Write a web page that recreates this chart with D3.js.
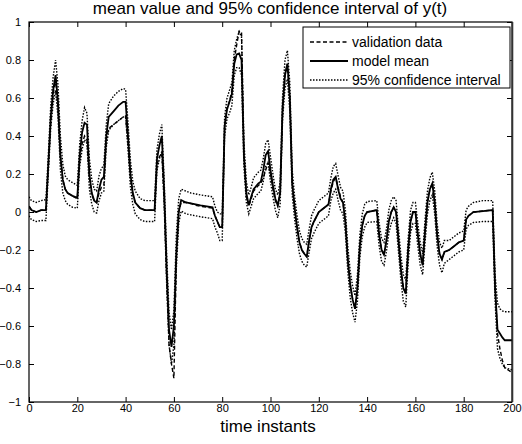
<!DOCTYPE html>
<html><head><meta charset="utf-8">
<script src="https://cdn.jsdelivr.net/npm/d3@7"></script>
<style>body{margin:0;background:#fff}svg{display:block}text{font-family:Arial,"Liberation Sans",sans-serif;fill:#000}</style>
</head><body>
<svg id="c" width="522" height="444"></svg>
<script>
// time instants at which the curves are sampled
const times = [0,1,3,5,7,8,9,10,11,12,13,14,15,16,18,20,21,22,23,24,25,26,27,28,29,30,31,32,33,35,37,39,40,41,42,43,44,46,48,52,53,54,55,56,57,58,59,60,61,62,63,65,67,69,71,76,77,78,79,80,81,82,83,84,85,86,87,88,89,90,91,92,93,95,96,97,98,99,100,101,102,103,104,105,106,107,108,109,110,111,112,113,114,115,116,117,118,120,122,124,125,126,127,128,129,130,131,132,133,134,135,136,137,138,139,140,144,145,146,147,148,149,150,151,152,153,154,155,156,157,158,159,160,161,162,163,164,165,166,167,168,169,170,171,172,174,176,178,180,181,182,184,188,192,193,194,195,196,197,200];
const validation = [0.03,0.01,0.00,0.01,0.01,0.24,0.47,0.62,0.70,0.55,0.29,0.17,0.12,0.10,0.085,0.07,0.28,0.36,0.40,0.38,0.18,0.09,0.06,0.05,0.10,0.13,0.14,0.38,0.44,0.46,0.48,0.50,0.505,0.36,0.18,0.09,0.05,0.02,0.01,0.01,0.25,0.29,0.31,0.05,-0.35,-0.70,-0.80,-0.875,-0.25,0.0,0.05,0.05,0.045,0.035,0.03,0.02,-0.02,-0.05,-0.08,-0.08,0.45,0.55,0.58,0.64,0.80,0.88,0.95,0.95,0.30,0.08,0.03,0.07,0.11,0.14,0.15,0.18,0.22,0.26,0.20,0.12,0.06,0.03,0.10,0.52,0.72,0.78,0.60,0.15,0.02,-0.08,-0.16,-0.20,-0.22,-0.235,-0.15,-0.08,-0.05,0.00,0.02,0.04,0.11,0.16,0.18,0.13,0.08,0.05,-0.05,-0.25,-0.38,-0.46,-0.51,-0.40,-0.18,-0.07,-0.02,0.00,0.01,-0.12,-0.20,-0.225,-0.15,-0.05,0.00,0.025,0.00,-0.15,-0.30,-0.40,-0.43,-0.20,-0.05,0.00,0.00,-0.12,-0.22,-0.28,-0.10,0.05,0.12,0.15,0.05,-0.12,-0.22,-0.25,-0.21,-0.20,-0.18,-0.16,-0.15,-0.04,-0.02,0.00,0.005,0.01,-0.40,-0.64,-0.72,-0.78,-0.82,-0.845];
const modelMean = [0.03,0.01,0.00,0.01,0.01,0.25,0.50,0.64,0.72,0.58,0.30,0.17,0.12,0.10,0.085,0.075,0.30,0.42,0.47,0.46,0.20,0.10,0.06,0.05,0.12,0.17,0.185,0.40,0.50,0.53,0.56,0.58,0.58,0.40,0.20,0.10,0.05,0.02,0.01,0.01,0.28,0.35,0.40,0.10,-0.30,-0.62,-0.71,-0.60,-0.22,0.0,0.063,0.05,0.045,0.04,0.035,0.025,-0.02,-0.05,-0.08,-0.08,0.45,0.54,0.58,0.62,0.78,0.83,0.835,0.80,0.30,0.10,0.035,0.08,0.12,0.15,0.16,0.22,0.30,0.32,0.22,0.14,0.07,0.035,0.10,0.55,0.72,0.78,0.60,0.15,0.02,-0.08,-0.16,-0.20,-0.22,-0.235,-0.15,-0.08,-0.05,0.00,0.02,0.04,0.12,0.17,0.185,0.12,0.07,0.05,-0.05,-0.25,-0.38,-0.46,-0.51,-0.40,-0.18,-0.07,-0.02,0.00,0.01,-0.12,-0.20,-0.225,-0.15,-0.05,0.00,0.025,0.00,-0.15,-0.30,-0.40,-0.43,-0.20,-0.05,0.00,0.00,-0.12,-0.22,-0.28,-0.10,0.05,0.12,0.15,0.05,-0.12,-0.22,-0.25,-0.21,-0.20,-0.18,-0.16,-0.15,-0.04,-0.02,0.00,0.005,0.01,-0.40,-0.62,-0.64,-0.66,-0.675,-0.675];
const upperCI = [0.08,0.06,0.05,0.06,0.065,0.30,0.56,0.71,0.80,0.67,0.40,0.25,0.19,0.17,0.155,0.14,0.36,0.48,0.55,0.52,0.28,0.17,0.12,0.11,0.19,0.23,0.245,0.46,0.57,0.61,0.635,0.65,0.645,0.47,0.27,0.16,0.11,0.07,0.06,0.06,0.33,0.41,0.46,0.16,-0.22,-0.53,-0.62,-0.52,-0.12,0.07,0.12,0.11,0.10,0.095,0.09,0.08,0.03,0.00,-0.01,-0.01,0.50,0.60,0.64,0.68,0.85,0.91,0.95,0.92,0.37,0.16,0.09,0.13,0.18,0.21,0.22,0.28,0.36,0.38,0.29,0.20,0.12,0.09,0.16,0.61,0.80,0.85,0.68,0.22,0.08,-0.02,-0.10,-0.14,-0.16,-0.17,-0.09,-0.02,0.01,0.06,0.08,0.10,0.18,0.24,0.255,0.19,0.13,0.11,0.01,-0.18,-0.31,-0.39,-0.44,-0.33,-0.12,-0.01,0.04,0.055,0.06,-0.06,-0.14,-0.16,-0.09,0.01,0.06,0.08,0.06,-0.09,-0.23,-0.33,-0.36,-0.14,0.01,0.05,0.05,-0.06,-0.16,-0.22,-0.04,0.11,0.18,0.21,0.11,-0.06,-0.16,-0.19,-0.15,-0.15,-0.13,-0.11,-0.10,0.01,0.03,0.05,0.06,0.06,-0.33,-0.48,-0.51,-0.52,-0.525,-0.525];
const lowerCI = [-0.02,-0.04,-0.05,-0.045,-0.045,0.20,0.44,0.57,0.64,0.50,0.22,0.10,0.06,0.04,0.025,0.02,0.24,0.33,0.38,0.36,0.12,0.04,0.00,-0.005,0.06,0.10,0.11,0.34,0.43,0.46,0.48,0.50,0.50,0.33,0.13,0.04,-0.01,-0.04,-0.05,-0.05,0.22,0.28,0.32,0.03,-0.38,-0.70,-0.80,-0.70,-0.30,-0.06,0.005,-0.01,-0.015,-0.02,-0.025,-0.035,-0.08,-0.11,-0.15,-0.15,0.40,0.49,0.52,0.56,0.72,0.76,0.76,0.72,0.24,0.05,-0.01,0.03,0.07,0.10,0.11,0.16,0.24,0.26,0.16,0.08,0.01,-0.03,0.04,0.49,0.65,0.70,0.53,0.09,-0.04,-0.14,-0.22,-0.26,-0.28,-0.29,-0.21,-0.14,-0.11,-0.06,-0.04,-0.02,0.06,0.10,0.12,0.06,0.01,-0.01,-0.11,-0.31,-0.45,-0.53,-0.58,-0.47,-0.24,-0.13,-0.08,-0.055,-0.05,-0.18,-0.26,-0.28,-0.21,-0.11,-0.06,-0.03,-0.06,-0.21,-0.36,-0.47,-0.50,-0.27,-0.11,-0.06,-0.06,-0.18,-0.28,-0.33,-0.16,-0.01,0.06,0.09,-0.01,-0.18,-0.28,-0.32,-0.27,-0.25,-0.23,-0.21,-0.20,-0.09,-0.07,-0.055,-0.05,-0.05,-0.47,-0.72,-0.77,-0.80,-0.82,-0.83];
const xTicks = [0,20,40,60,80,100,120,140,160,180,200];
const yTicks = [-1,-0.8,-0.6,-0.4,-0.2,0,0.2,0.4,0.6,0.8,1];
const legendLabels = ["validation data","model mean","95% confidence interval"];
const titleText = "mean value and 95% confidence interval of y(t)";
const xLabelText = "time instants";

const svg = d3.select("#c");
const m = {l:29, r:512, t:22, b:402};
const x = d3.scaleLinear().domain([0,200]).range([m.l, m.r]);
const y = d3.scaleLinear().domain([-1,1]).range([m.b, m.t]);

svg.append("defs").append("clipPath").attr("id","clip")
  .append("rect").attr("x",m.l).attr("y",m.t).attr("width",m.r-m.l).attr("height",m.b-m.t);

const g = svg.append("g").attr("clip-path","url(#clip)");
const line = vals => d3.line().x((d,i)=>x(times[i])).y(d=>y(d))(vals);

const styles = {
  ci: {w:1.4, dash:"1.5,1.5"},
  mean: {w:1.8, dash:null},
  val: {w:1.4, dash:"4,2.5"}
};
function draw(vals, s){
  g.append("path").attr("d", line(vals)).attr("fill","none").attr("stroke","#000")
   .attr("stroke-width", s.w).attr("stroke-dasharray", s.dash);
}
draw(upperCI, styles.ci);
draw(lowerCI, styles.ci);
draw(validation, styles.val);
draw(modelMean, styles.mean);

// axes (inward ticks, box)
const tl = 5;
const fmt = d => d3.format("")(d);
svg.append("g").attr("transform",`translate(0,${m.b})`)
  .call(d3.axisBottom(x).tickValues(xTicks).tickSizeInner(-tl).tickSizeOuter(0).tickPadding(4).tickFormat(fmt))
  .call(a=>{a.select(".domain").remove(); a.selectAll("text").style("font-size","11px").attr("dy","0.71em").attr("y",2);});
svg.append("g").attr("transform",`translate(0,${m.t})`)
  .call(d3.axisTop(x).tickValues(xTicks).tickSizeInner(-tl).tickSizeOuter(0).tickFormat(""))
  .call(a=>a.select(".domain").remove());
svg.append("g").attr("transform",`translate(${m.l},0)`)
  .call(d3.axisLeft(y).tickValues(yTicks).tickSizeInner(-tl).tickSizeOuter(0).tickFormat(fmt))
  .call(a=>{a.select(".domain").remove(); a.selectAll("text").style("font-size","11px").attr("x",-8);});
svg.append("g").attr("transform",`translate(${m.r},0)`)
  .call(d3.axisRight(y).tickValues(yTicks).tickSizeInner(-tl).tickSizeOuter(0).tickFormat(""))
  .call(a=>a.select(".domain").remove());
svg.selectAll(".tick line").attr("stroke","#000");
svg.append("rect").attr("x",m.l).attr("y",m.t).attr("width",m.r-m.l).attr("height",m.b-m.t)
  .attr("fill","none").attr("stroke","#000").attr("stroke-width",1.2);
svg.append("line").attr("x1",m.r+0.5).attr("x2",m.r+0.5).attr("y1",m.t).attr("y2",m.b)
  .attr("stroke","#333").attr("stroke-width",1.6);

// title & label
svg.append("text").attr("x",270).attr("y",14).attr("text-anchor","middle").style("font-size","17px").text(titleText);
svg.append("text").attr("x",268).attr("y",432).attr("text-anchor","middle").style("font-size","17px").text(xLabelText);

// legend
const lg = svg.append("g");
lg.append("rect").attr("x",303).attr("y",27).attr("width",207).attr("height",61).attr("fill","#fff").attr("stroke","#000").attr("stroke-width",1);
const lstyles = [styles.val, styles.mean, styles.ci];
legendLabels.forEach((lab,i)=>{
  const yy = 42 + i*19;
  lg.append("line").attr("x1",310).attr("x2",348).attr("y1",yy).attr("y2",yy).attr("stroke","#000")
    .attr("stroke-width",lstyles[i].w).attr("stroke-dasharray",lstyles[i].dash);
  lg.append("text").attr("x",352).attr("y",yy).attr("dy","0.35em").style("font-size","14px").text(lab);
});
</script>
</body></html>
